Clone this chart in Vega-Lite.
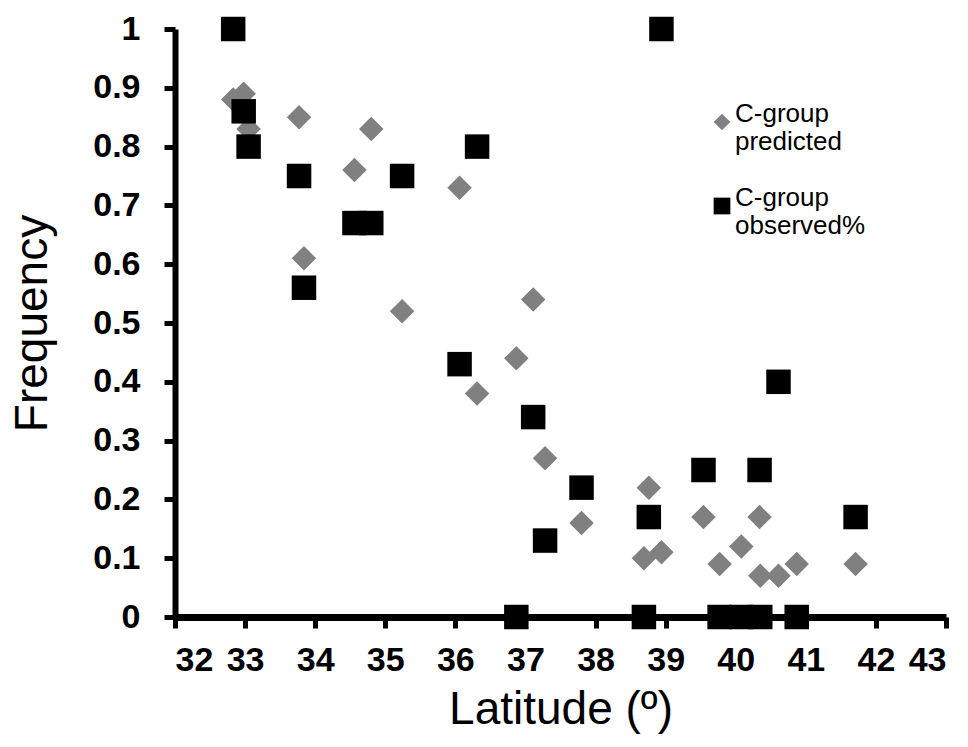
{
  "$schema": "https://vega.github.io/schema/vega-lite/v6.json",
  "autosize": {"type": "none"},
  "padding": {"left": 175, "top": 29, "right": 22, "bottom": 130},
  "width": 771,
  "height": 588,
  "background": "white",
  "data": {
    "values": [
      {"lat": 32.83, "series": "C-group predicted", "value": 0.88},
      {"lat": 32.98, "series": "C-group predicted", "value": 0.89},
      {"lat": 33.05, "series": "C-group predicted", "value": 0.83},
      {"lat": 33.77, "series": "C-group predicted", "value": 0.85},
      {"lat": 33.84, "series": "C-group predicted", "value": 0.61},
      {"lat": 34.56, "series": "C-group predicted", "value": 0.76},
      {"lat": 34.8, "series": "C-group predicted", "value": 0.83},
      {"lat": 35.24, "series": "C-group predicted", "value": 0.52},
      {"lat": 36.06, "series": "C-group predicted", "value": 0.73},
      {"lat": 36.31, "series": "C-group predicted", "value": 0.38},
      {"lat": 36.87, "series": "C-group predicted", "value": 0.44},
      {"lat": 37.11, "series": "C-group predicted", "value": 0.54},
      {"lat": 37.28, "series": "C-group predicted", "value": 0.27},
      {"lat": 37.8, "series": "C-group predicted", "value": 0.16},
      {"lat": 38.69, "series": "C-group predicted", "value": 0.1},
      {"lat": 38.76, "series": "C-group predicted", "value": 0.22},
      {"lat": 38.94, "series": "C-group predicted", "value": 0.11},
      {"lat": 39.54, "series": "C-group predicted", "value": 0.17},
      {"lat": 39.77, "series": "C-group predicted", "value": 0.09},
      {"lat": 40.08, "series": "C-group predicted", "value": 0.12},
      {"lat": 40.34, "series": "C-group predicted", "value": 0.17},
      {"lat": 40.35, "series": "C-group predicted", "value": 0.07},
      {"lat": 40.61, "series": "C-group predicted", "value": 0.07},
      {"lat": 40.87, "series": "C-group predicted", "value": 0.09},
      {"lat": 41.71, "series": "C-group predicted", "value": 0.09},
      {"lat": 32.83, "series": "C-group observed%", "value": 1.0},
      {"lat": 32.98, "series": "C-group observed%", "value": 0.86},
      {"lat": 33.05, "series": "C-group observed%", "value": 0.8},
      {"lat": 33.77, "series": "C-group observed%", "value": 0.75},
      {"lat": 33.84, "series": "C-group observed%", "value": 0.56},
      {"lat": 34.56, "series": "C-group observed%", "value": 0.67},
      {"lat": 34.8, "series": "C-group observed%", "value": 0.67},
      {"lat": 35.24, "series": "C-group observed%", "value": 0.75},
      {"lat": 36.06, "series": "C-group observed%", "value": 0.43},
      {"lat": 36.31, "series": "C-group observed%", "value": 0.8},
      {"lat": 36.87, "series": "C-group observed%", "value": 0.0},
      {"lat": 37.11, "series": "C-group observed%", "value": 0.34},
      {"lat": 37.28, "series": "C-group observed%", "value": 0.13},
      {"lat": 37.8, "series": "C-group observed%", "value": 0.22},
      {"lat": 38.69, "series": "C-group observed%", "value": 0.0},
      {"lat": 38.76, "series": "C-group observed%", "value": 0.17},
      {"lat": 38.94, "series": "C-group observed%", "value": 1.0},
      {"lat": 39.54, "series": "C-group observed%", "value": 0.25},
      {"lat": 39.77, "series": "C-group observed%", "value": 0.0},
      {"lat": 40.08, "series": "C-group observed%", "value": 0.0},
      {"lat": 40.34, "series": "C-group observed%", "value": 0.25},
      {"lat": 40.35, "series": "C-group observed%", "value": 0.0},
      {"lat": 40.61, "series": "C-group observed%", "value": 0.4},
      {"lat": 40.87, "series": "C-group observed%", "value": 0.0},
      {"lat": 41.71, "series": "C-group observed%", "value": 0.17}
    ]
  },
  "mark": {"type": "point", "filled": true, "opacity": 1, "size": 600},
  "encoding": {
    "x": {
      "field": "lat",
      "type": "quantitative",
      "title": "Latitude (º)",
      "scale": {"domain": [32, 43], "nice": false, "zero": false},
      "axis": {
        "values": [32, 33, 34, 35, 36, 37, 38, 39, 40, 41, 42, 43],
        "format": "d",
        "titlePadding": 10,
        "domainWidth": 7,
        "domainColor": "#000000",
        "tickWidth": 5,
        "tickSize": 11,
        "tickColor": "#000000"
      }
    },
    "y": {
      "field": "value",
      "type": "quantitative",
      "title": "Frequency",
      "scale": {"domain": [0, 1], "nice": false},
      "axis": {
        "values": [0, 0.1, 0.2, 0.3, 0.4, 0.5, 0.6, 0.7, 0.8, 0.9, 1],
        "format": ".1~f",
        "titlePadding": 36,
        "domainWidth": 6,
        "domainColor": "#000000",
        "tickWidth": 5,
        "tickSize": 11,
        "tickColor": "#000000"
      }
    },
    "shape": {
      "field": "series",
      "type": "nominal",
      "scale": {"domain": ["C-group predicted", "C-group observed%"], "range": ["diamond", "square"]},
      "legend": {
        "title": null,
        "orient": "none",
        "legendX": 534,
        "legendY": 80,
        "labelExpr": "datum.label == 'C-group predicted' ? ['C-group', 'predicted'] : ['C-group', 'observed%']"
      }
    },
    "color": {
      "field": "series",
      "type": "nominal",
      "scale": {"domain": ["C-group predicted", "C-group observed%"], "range": ["#808080", "#000000"]},
      "legend": {
        "title": null,
        "orient": "none",
        "legendX": 534,
        "legendY": 80,
        "labelExpr": "datum.label == 'C-group predicted' ? ['C-group', 'predicted'] : ['C-group', 'observed%']"
      }
    }
  },
  "config": {
    "font": "Liberation Sans",
    "view": {"stroke": null},
    "axis": {
      "grid": false,
      "labelFont": "Liberation Sans",
      "labelFontSize": 34,
      "labelFontWeight": "bold",
      "labelColor": "#000000",
      "labelPadding": 15,
      "titleFont": "Liberation Sans",
      "titleFontSize": 46,
      "titleFontWeight": "normal",
      "titleColor": "#000000"
    },
    "axisY": {"labelPadding": 24},
    "legend": {
      "padding": 0,
      "labelFont": "Liberation Sans",
      "labelFontSize": 26,
      "labelColor": "#000000",
      "labelBaseline": "alphabetic",
      "labelOffset": 0,
      "symbolSize": 280,
      "symbolStrokeWidth": 0,
      "rowPadding": 30
    }
  }
}
